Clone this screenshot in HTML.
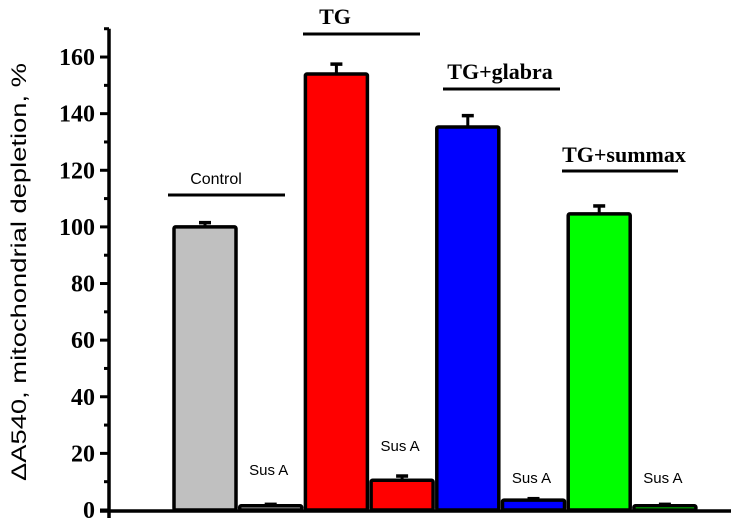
<!DOCTYPE html>
<html><head><meta charset="utf-8"><style>
html,body{margin:0;padding:0;background:#fff;}
svg{display:block;}
</style></head><body>
<svg id="chart" width="731" height="524" viewBox="0 0 731 524" xmlns="http://www.w3.org/2000/svg">
<text transform="translate(26,272) rotate(-90)" text-anchor="middle" font-family="Liberation Sans, sans-serif" font-size="21" textLength="418" lengthAdjust="spacingAndGlyphs" fill="#000">ΔA540, mitochondrial depletion, %</text>
<g id="axes"></g>
<g id="bars"></g>
<g id="labels"></g>
</svg>
<script>
const categories = ["Control","Control Sus A","TG","TG Sus A","TG+glabra","TG+glabra Sus A","TG+summax","TG+summax Sus A"];
const values = [100, 1.5, 154, 10.5, 135.3, 3.5, 104.6, 1.5];
const errors = [1.5, 0.5, 3.5, 1.5, 4, 0.5, 2.8, 0.5];
const colors = ["#c0c0c0","#c0c0c0","#ff0000","#ff0000","#0000ff","#0000ff","#00ff00","#00ff00"];
const yTicks = [0,20,40,60,80,100,120,140,160];
const groupLabels = ["Control","TG","TG+glabra","TG+summax"];
const susLabel = "Sus A";

const NS="http://www.w3.org/2000/svg";
const y0=510, pxPer=2.831;
function yScale(v){return y0 - v*pxPer;}
function xLeft(i){return 174 + i*65.7;}
const barW=62;
function mk(tag,attrs,parent){const e=document.createElementNS(NS,tag);for(const k in attrs)e.setAttribute(k,attrs[k]);parent.appendChild(e);return e;}
const axes=document.getElementById('axes'), bars=document.getElementById('bars'), labels=document.getElementById('labels');

let ya=mk('line',{x1:109,y1:yScale(170),x2:109,y2:518,stroke:'#000','stroke-width':3.5},axes);


let xa=mk('line',{x1:100,y1:y0+1,x2:731,y2:y0+1,stroke:'#000','stroke-width':3.5},axes);


for(let v=0; v<=170; v+=10){
  const major = v%20===0;
  let t=mk('line',{x1:major?100:104,y1:yScale(v),x2:109,y2:yScale(v),stroke:'#000','stroke-width':3},axes);
  
  
}
yTicks.forEach(v=>{
  let t=mk('text',{x:95,y:yScale(v)+8,'text-anchor':'end','font-family':'Liberation Serif, serif','font-size':24,'font-weight':'bold'},axes);
  t.textContent=v;
  
  
});

values.forEach((v,i)=>{
  const x=xLeft(i), top=yScale(v);
  const cx=x+barW/2;
  let e=mk('line',{x1:cx,y1:top,x2:cx,y2:yScale(v+errors[i]),stroke:'#000','stroke-width':3},bars);
  
  
  let c=mk('line',{x1:cx-6,y1:yScale(v+errors[i]),x2:cx+6,y2:yScale(v+errors[i]),stroke:'#000','stroke-width':3.5},bars);
  
  
  let r=mk('rect',{x:x,y:top,width:barW,height:Math.max(y0-top,0.5),fill:colors[i],stroke:'#000','stroke-width':3.5,rx:1.5},bars);
  
  
  if(i%2===1){
    let t=mk('text',{x:cx-2,y:(i===3? yScale(v+errors[i])-25 : (i===1?475:483)),'text-anchor':'middle','font-family':'Liberation Sans, sans-serif','font-size':15},labels);
    t.textContent=susLabel;
    
    
  }
});

const gl=[{x1:168,x2:285,ly:195,tx:216,ty:184,serif:false},{x1:303,x2:420,ly:34,tx:335,ty:24,serif:true},{x1:443,x2:560,ly:89,tx:500,ty:79,serif:true},{x1:562,x2:678,ly:171,tx:624,ty:162,serif:true}];
groupLabels.forEach((g,i)=>{
  const p=gl[i];
  let l=mk('line',{x1:p.x1,y1:p.ly,x2:p.x2,y2:p.ly,stroke:'#000','stroke-width':3},labels);
  
  
  let t=mk('text',{x:p.tx,y:p.ty,'text-anchor':'middle','font-family':p.serif?'Liberation Serif, serif':'Liberation Sans, sans-serif','font-size':p.serif?22:16,'font-weight':p.serif?'bold':'normal'},labels);
  t.textContent=g;
  
  
});
</script>
</body></html>
